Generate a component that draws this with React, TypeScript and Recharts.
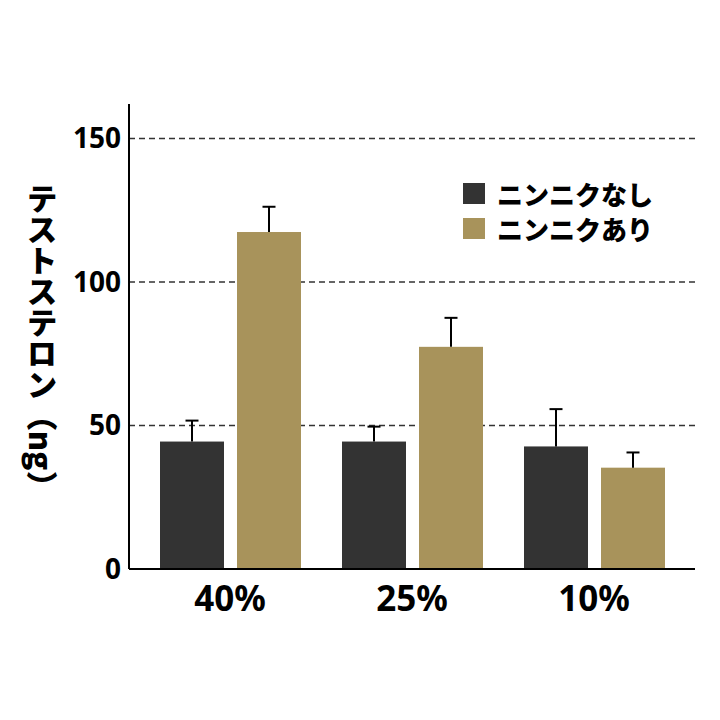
import React from "react";
import { BarChart, Bar, XAxis, YAxis, CartesianGrid } from "recharts";

const categories = ["40%", "25%", "10%"];
const withoutGarlic = [44.4, 44.4, 42.7];
const withGarlic = [117.4, 77.4, 35.3];
const withoutGarlicErr = [7.3, 5.2, 13.0];
const withGarlicErr = [8.8, 10.1, 5.3];
const yTicks = [0, 50, 100, 150];

const DARK = "#333333";
const TAN = "#a8935b";
const JP_FONT = "'Noto Sans CJK JP', 'Noto Sans', sans-serif";
const NUM_FONT = "'Noto Sans', 'DejaVu Sans', sans-serif";

const data = categories.map((c, i) => ({
  name: c,
  without: withoutGarlic[i],
  withG: withGarlic[i],
  withoutErr: withoutGarlicErr[i],
  withErr: withGarlicErr[i],
}));

// bar with an upward-only error whisker, scaled from the bar's own height
function barWithError(errKey: "withoutErr" | "withErr") {
  return (props: any) => {
    const { x, y, width, height, fill, value, payload } = props;
    const v = Array.isArray(value) ? value[1] - value[0] : value;
    const pxPerUnit = v ? height / v : 0;
    const top = y - payload[errKey] * pxPerUnit;
    const cx = x + width / 2;
    return (
      <g>
        <rect x={x} y={y} width={width} height={height} fill={fill} />
        <line x1={cx} y1={y} x2={cx} y2={top} stroke="#000" strokeWidth={2} />
        <line x1={cx - 6.5} y1={top} x2={cx + 6.5} y2={top} stroke="#000" strokeWidth={2} />
      </g>
    );
  };
}

const legendItems = [
  { label: "ニンニクなし", color: DARK },
  { label: "ニンニクあり", color: TAN },
];

function LegendBox() {
  return (
    <div style={{ position: "absolute", left: 463, top: 176, fontFamily: JP_FONT }}>
      {legendItems.map((it) => (
        <div key={it.label} style={{ display: "flex", alignItems: "center", height: 35 }}>
          <span style={{ width: 22, height: 21, background: it.color, display: "inline-block", marginRight: 12 }} />
          <span style={{ fontSize: 26, fontWeight: 900, color: "#000", lineHeight: "35px" }}>{it.label}</span>
        </div>
      ))}
    </div>
  );
}

function YLabel(props: any) {
  const vb = props.viewBox || { x: 0, y: 0, height: 0 };
  return (
    <text
      x={42}
      y={vb.y + 238}
      textAnchor="middle"
      style={{ writingMode: "vertical-rl" as any, fontFamily: JP_FONT }}
      fontSize={31}
      fontWeight={900}
      fill="#000"
    >
      テストステロン（ng）
    </text>
  );
}

export default function App() {
  return (
    <div style={{ position: "absolute", left: 0, top: 0, width: 720, height: 720, background: "#fff" }}>
      <BarChart
        width={720}
        height={720}
        data={data}
        margin={{ top: 104, right: 25, bottom: 121, left: 0 }}
        barCategoryGap={20}
        barGap={13}
      >
        <CartesianGrid
          vertical={false}
          horizontalValues={yTicks}
          stroke="#333"
          strokeDasharray="6 4"
          strokeWidth={1.6}
        />
        <XAxis
          dataKey="name"
          height={30}
          padding={{ left: 10, right: 10 }}
          axisLine={{ stroke: "#000", strokeWidth: 2 }}
          tickLine={false}
          tickMargin={11}
          tick={{ fill: "#000", fontSize: 35, fontWeight: 700, fontFamily: NUM_FONT }}
        />
        <YAxis
          width={129}
          domain={[0, 162]}
          ticks={yTicks}
          allowDataOverflow
          axisLine={{ stroke: "#000", strokeWidth: 2 }}
          tickLine={false}
          tick={{ fill: "#000", fontSize: 28, fontWeight: 700, fontFamily: NUM_FONT }}
          label={{ content: <YLabel /> }}
        />
        <Bar dataKey="without" name="ニンニクなし" fill={DARK} barSize={64} isAnimationActive={false} shape={barWithError("withoutErr")} />
        <Bar dataKey="withG" name="ニンニクあり" fill={TAN} barSize={64} isAnimationActive={false} shape={barWithError("withErr")} />
      </BarChart>
      <LegendBox />
    </div>
  );
}
